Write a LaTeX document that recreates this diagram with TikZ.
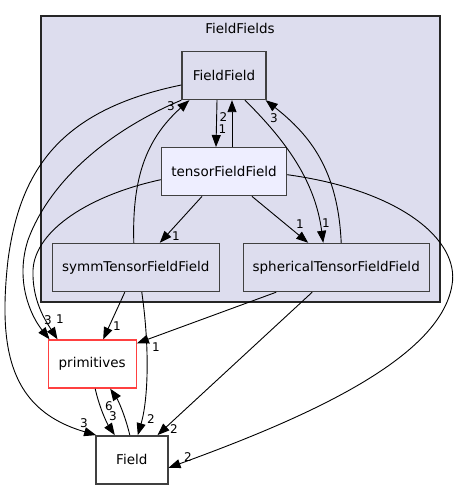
\documentclass[tikz,border=0pt]{standalone}
\usepackage{fontspec}
\setmainfont{DejaVu Sans}
\usepackage{xcolor}
\usetikzlibrary{arrows.meta, positioning, calc}

\definecolor{clusterfill}{HTML}{DDDDEE}
\definecolor{dirfill}{HTML}{EEEEFF}
\definecolor{dirline}{HTML}{404040}
\definecolor{dirred}{HTML}{FF4040}

\begin{document}
\begin{tikzpicture}[
    x=1pt, y=-1pt,
    dir/.style={rectangle, draw=dirline, line width=1.4pt, minimum height=48pt, minimum width=#1, inner sep=0pt, font=\fontsize{13.5}{15}\selectfont},
    dir/.default={80pt},
    dep/.style={-{Triangle[length=12pt, width=9pt]}, line width=0.9pt, black},
    num/.style={font=\fontsize{12}{13}\selectfont, inner sep=0pt},
]
    \useasboundingbox (0,0) rectangle (458,489);

    % Cluster box
    \draw[fill=clusterfill, line width=1.1pt, draw=black!85] (41,16) rectangle (440,302);
    \node[font=\fontsize{13.5}{15}\selectfont] (cl) at (240,28) {FieldFields};

    % Directories inside the cluster
    \node[dir=84pt, fill=clusterfill] (ff) at (224,75.5) {FieldField};
    \node[dir=125pt, fill=dirfill] (tff) at (224,171.7) {tensorFieldField};
    \node[dir=167pt, fill=clusterfill] (stff) at (135.8,267.5) {symmTensorFieldField};
    \node[dir=186pt, fill=clusterfill] (sptff) at (336.2,267.5) {sphericalTensorFieldField};

    % Directories outside
    \node[dir=88pt, fill=white, draw=dirred] (prim) at (92.2,364) {primitives};
    \node[dir=72pt, fill=white] (fld) at (131.8,459.8) {Field};

    % Dependencies
    \draw[dep] ([xshift=-7pt]ff.south) -- ([xshift=-8pt]tff.north);
    \draw[dep] ([xshift=8pt]tff.north) -- ([xshift=8pt]ff.south);
    \draw[dep] ([yshift=-9.5pt]ff.west) .. controls (60,110) and (20,170) .. (8,260)
        .. controls (-2,350) and (10,410) .. ([xshift=1pt]fld.north west);
    \draw[dep] (ff.south west) .. controls (110,130) and (50,180) .. (28,240)
        .. controls (15,280) and (30,315) .. ([xshift=2pt]prim.north west);
    \draw[dep] ([yshift=-8pt]tff.west) .. controls (90,195) and (35,230) .. (33,270)
        .. controls (32,300) and (45,320) .. ([xshift=10pt]prim.north west);
    \draw[dep] ([xshift=-2pt]stff.north) .. controls (132,180) and (145,140) .. ([xshift=8pt]ff.south west);
    \draw[dep] ([xshift=21pt]ff.south) .. controls (285,140) and (315,180) .. ([xshift=-13pt]sptff.north);
    \draw[dep] ([xshift=5pt]sptff.north) .. controls (338,170) and (310,135) .. ([xshift=-1pt]ff.south east);
    \draw[dep] ([xshift=-22pt]tff.south) -- ([xshift=24pt]stff.north);
    \draw[dep] ([xshift=28pt]tff.south) -- ([xshift=-28pt]sptff.north);
    \draw[dep] ([yshift=-3pt]tff.east) .. controls (400,190) and (460,240) .. (452,285)
        .. controls (440,360) and (300,420) .. ([yshift=-8pt]fld.east);
    \draw[dep] ([xshift=-11pt]stff.south) -- ([xshift=11pt]prim.north);
    \draw[dep] ([xshift=6pt]stff.south) .. controls (150,350) and (148,400) .. ([xshift=6pt]fld.north);
    \draw[dep] ([xshift=-60pt]sptff.south) -- ([yshift=-4pt]prim.north east);
    \draw[dep] ([xshift=-24pt]sptff.south) -- ([xshift=-11pt]fld.north east);
    \draw[dep] ([xshift=3pt]prim.south) .. controls (100,410) and (108,425) .. ([xshift=-17pt]fld.north);
    \draw[dep] ([xshift=-2pt]fld.north) .. controls (125,415) and (118,400) .. ([xshift=18pt]prim.south);

    % Dependency counts
    \node[num] (n1) at (222.5,129) {1};
    \node[num] (n2) at (223.5,117) {2};
    \node[num] (n3) at (171,106) {3};
    \node[num] (n4) at (274,118) {3};
    \node[num] (n5) at (326,223) {1};
    \node[num] (n6) at (300,224) {1};
    \node[num] (n7) at (176,236) {1};
    \node[num] (n8) at (48,320) {3};
    \node[num] (n9) at (60,319) {1};
    \node[num] (n10) at (117,326) {1};
    \node[num] (n11) at (156,347) {1};
    \node[num] (n12) at (109,406) {6};
    \node[num] (n13) at (113,416) {3};
    \node[num] (n14) at (84,423) {3};
    \node[num] (n15) at (151,419) {2};
    \node[num] (n16) at (174,429) {2};
    \node[num] (n17) at (188,457) {2};
\end{tikzpicture}
\end{document}
